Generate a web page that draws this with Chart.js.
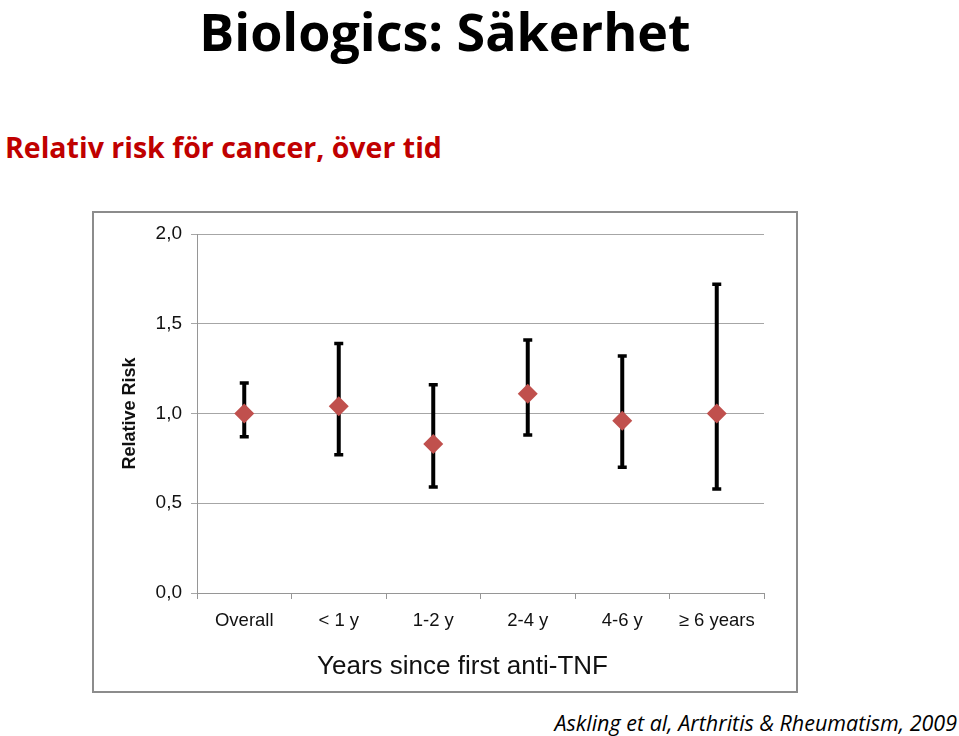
<!DOCTYPE html>
<html>
<head>
<meta charset="utf-8">
<script src="https://cdn.jsdelivr.net/npm/chart.js@4"></script>
<style>
  body { margin: 0; width: 959px; height: 736px; background: #fff; position: relative; overflow: hidden; }
  .title { position: absolute; left: 0; width: 890px; top: -5px; text-align: center;
           font: bold 52px "Open Sans", sans-serif; color: #000; }
  .sub { position: absolute; left: 5px; top: 128px; font: bold 28.5px "Open Sans", sans-serif; color: #c00000; }
  .cite { position: absolute; right: 2px; top: 708px; font: italic 21.5px "Open Sans", sans-serif; color: #000; }
  .box { position: absolute; left: 92px; top: 211px; width: 702px; height: 478px; border: 2px solid #8c8c8c; }
  #chart { position: absolute; left: 0; top: 0; }
</style>
</head>
<body>
<div class="title">Biologics: Säkerhet</div>
<div class="sub">Relativ risk för cancer, över tid</div>
<div class="box"><canvas id="chart" width="702" height="478"></canvas></div>
<div class="cite">Askling et al, Arthritis &amp; Rheumatism, 2009</div>
<script>
// ---- data ----
const categories = ["Overall", "< 1 y", "1-2 y", "2-4 y", "4-6 y", "\u2265 6 years"];
const relativeRisk = [1.00, 1.04, 0.83, 1.11, 0.96, 1.00];
const ciLower = [0.87, 0.77, 0.59, 0.88, 0.70, 0.58];
const ciUpper = [1.17, 1.39, 1.16, 1.41, 1.32, 1.72];
const yTicks = [0, 0.5, 1.0, 1.5, 2.0];
const xTitle = "Years since first anti-TNF";

const axisFont = "Liberation Sans, Arial, sans-serif";

// error bars drawn under the markers
const errorBars = {
  id: "errorBars",
  beforeDatasetsDraw(chart) {
    const c = chart.ctx;
    const x = chart.scales.x, y = chart.scales.y;
    c.save();
    c.strokeStyle = "#000";
    categories.forEach((cat, i) => {
      const px = x.getPixelForValue(i);
      const top = y.getPixelForValue(ciUpper[i]);
      const bot = y.getPixelForValue(ciLower[i]);
      c.lineWidth = 4;
      c.beginPath();
      c.moveTo(px, top);
      c.lineTo(px, bot);
      c.stroke();
      c.lineWidth = 3.5;
      c.beginPath();
      c.moveTo(px - 4.5, top); c.lineTo(px + 4.5, top);
      c.moveTo(px - 4.5, bot); c.lineTo(px + 4.5, bot);
      c.stroke();
    });
    c.restore();
  },
  // x axis title sits a bit left of the plot centre in the original
  afterDraw(chart) {
    const c = chart.ctx;
    const x = chart.scales.x;
    c.save();
    c.font = "26px " + axisFont;
    c.fillStyle = "#111";
    c.textAlign = "center";
    c.textBaseline = "middle";
    c.fillText(xTitle, (x.left + x.right) / 2 - 18, x.top + 74);
    c.restore();
  }
};

new Chart(document.getElementById("chart"), {
  type: "line",
  data: {
    labels: categories,
    datasets: [{
      data: relativeRisk,
      showLine: false,
      pointStyle: "rectRot",
      pointRadius: 10,
      pointHoverRadius: 10,
      backgroundColor: "#c0504d",
      borderColor: "#c0504d",
      borderWidth: 0
    }]
  },
  options: {
    responsive: false,
    animation: false,
    plugins: { legend: { display: false }, tooltip: { enabled: false } },
    layout: { padding: { top: 21, right: 32, left: 0, bottom: 0 } },
    scales: {
      x: {
        offset: true,
        grid: { offset: true, drawOnChartArea: false, color: "#969696", tickLength: 6 },
        border: { color: "#969696" },
        ticks: { color: "#111", font: { family: axisFont, size: 18.5 }, padding: 11, maxRotation: 0 },
        afterFit(s) { s.height = 98; }
      },
      y: {
        min: 0, max: 2,
        afterBuildTicks(s) { s.ticks = yTicks.map(v => ({ value: v })); },
        grid: { color: "#a6a6a6", tickLength: 6 },
        border: { color: "#969696" },
        ticks: { color: "#111", font: { family: axisFont, size: 19 }, padding: 9,
                 callback: v => v.toFixed(1).replace(".", ",") },
        title: { display: true, text: "Relative Risk", color: "#111",
                 font: { family: axisFont, size: 18, weight: "bold" }, padding: { top: 25, bottom: 0 } },
        afterFit(s) { s.width = 103; }
      }
    }
  },
  plugins: [errorBars]
});
</script>
</body>
</html>
